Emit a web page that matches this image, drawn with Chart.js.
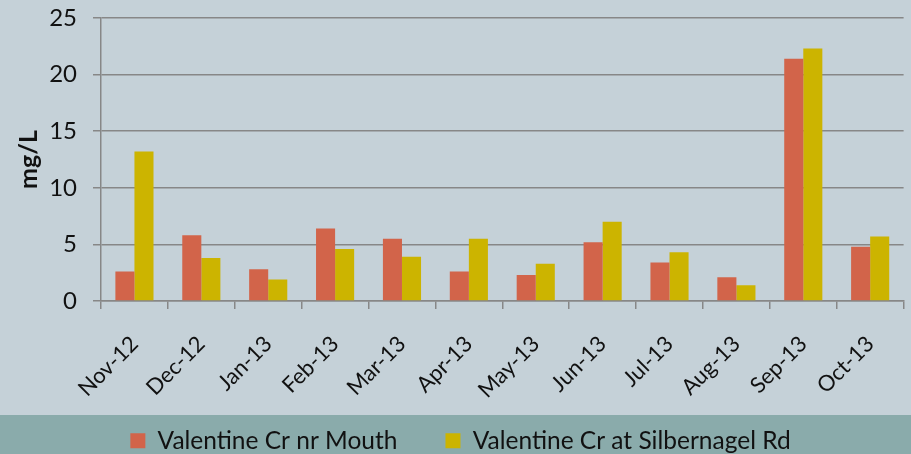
<!DOCTYPE html>
<html>
<head>
<meta charset="utf-8">
<script src="https://cdn.jsdelivr.net/npm/chart.js@4"></script>
<style>
  html, body { margin: 0; padding: 0; background: #c5d1d8; }
  #wrap { width: 911px; height: 454px; }
</style>
</head>
<body>
<div id="wrap"><canvas id="chart"></canvas></div>
<script>
    var months = ["Nov-12", "Dec-12", "Jan-13", "Feb-13", "Mar-13", "Apr-13", "May-13", "Jun-13", "Jul-13", "Aug-13", "Sep-13", "Oct-13"];
    var nrMouth = [2.6, 5.8, 2.8, 6.4, 5.5, 2.6, 2.3, 5.2, 3.4, 2.1, 21.4, 4.8];
    var silbernagel = [13.2, 3.8, 1.9, 4.6, 3.9, 5.5, 3.3, 7.0, 4.3, 1.4, 22.3, 5.7];
    var yTicks = [0, 5, 10, 15, 20, 25];

    var fontFamily = "Lato, 'Liberation Sans', sans-serif";

    // grey background + teal band behind the legend, and nudge the legend into the band
    var bgPlugin = {
        id: 'bg',
        afterLayout: function (chart) {
            chart.legend.top += 9;
            chart.legend.bottom += 9;
            // let the rotated month labels run down to the band (labels are clipped to the scale box)
            chart.scales.x.bottom = 415;
        },
        beforeDraw: function (chart) {
            var ctx = chart.ctx;
            ctx.save();
            ctx.fillStyle = '#c5d1d8';
            ctx.fillRect(0, 0, chart.width, chart.height);
            ctx.fillStyle = '#8aabab';
            ctx.fillRect(0, 415, chart.width, chart.height - 415);
            ctx.restore();
        }
    };

    new Chart("chart", {
        type: "bar",
        data: {
            labels: months,
            datasets: [{
                label: "Valentine Cr nr Mouth",
                backgroundColor: '#d2644a',
                data: nrMouth,
                barPercentage: 1.0,
                categoryPercentage: 0.57
            }, {
                label: "Valentine Cr at Silbernagel Rd",
                backgroundColor: '#ccb400',
                data: silbernagel,
                barPercentage: 1.0,
                categoryPercentage: 0.57
            }]
        },
        plugins: [bgPlugin],
        options: {
            responsive: true,
            maintainAspectRatio: false,
            animation: false,
            layout: { padding: { top: 18, right: 4, left: 14, bottom: 0 } },
            scales: {
                y: {
                    min: 0,
                    max: 25,
                    afterBuildTicks: function (scale) {
                        scale.ticks = yTicks.map(function (v) { return { value: v }; });
                    },
                    afterFit: function (scale) {
                        scale.width = 87;
                        scale.paddingTop = 0;
                        scale.paddingBottom = 0;
                    },
                    grid: { color: '#878787', lineWidth: 1.5, tickLength: 8 },
                    border: { color: '#878787', width: 1.5 },
                    ticks: { color: '#111', padding: 16, font: { family: fontFamily, size: 24 } },
                    title: {
                        display: true,
                        text: "mg/L",
                        color: '#111',
                        padding: 0,
                        font: { family: fontFamily, size: 25, weight: 'bold' }
                    }
                },
                x: {
                    afterFit: function (scale) { scale.height = 70.5; },
                    grid: { drawOnChartArea: false, color: '#878787', lineWidth: 1.5, tickLength: 8 },
                    border: { color: '#878787', width: 1.5 },
                    ticks: {
                        color: '#111',
                        minRotation: 45,
                        maxRotation: 45,
                        padding: 22,
                        font: { family: fontFamily, size: 22 }
                    }
                }
            },
            plugins: {
                legend: {
                    position: 'bottom',
                    labels: {
                        color: '#111',
                        boxWidth: 15,
                        boxHeight: 15,
                        padding: 48,
                        font: { family: fontFamily, size: 24.5 }
                    }
                },
                tooltip: { enabled: false }
            }
        }
    });
</script>
</body>
</html>
